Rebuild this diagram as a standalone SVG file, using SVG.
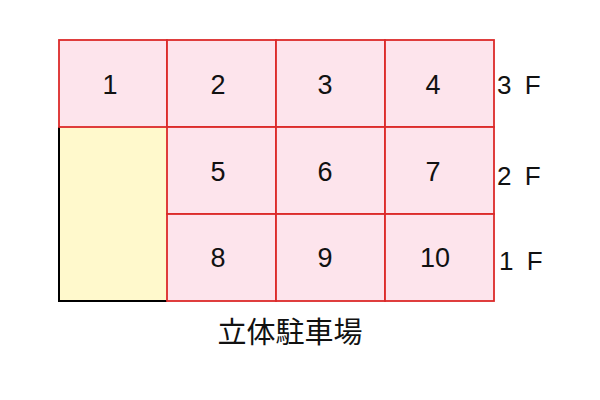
<svg xmlns="http://www.w3.org/2000/svg" width="600" height="400" viewBox="0 0 600 400">
<style>
.cell{fill:#fde4ec;stroke:#dc2a2a;stroke-width:1.8}
.num{font-family:"Liberation Sans",Arial,sans-serif;font-size:27px;fill:#111;text-anchor:middle;dominant-baseline:central}
.fl{font-family:"Liberation Sans",Arial,sans-serif;font-size:26px;fill:#111;dominant-baseline:central;letter-spacing:3px}
.title{font-family:"Noto Sans CJK JP","Noto Sans CJK SC",sans-serif;font-size:29px;fill:#111;text-anchor:middle;dominant-baseline:central}
</style>
<rect width="600" height="400" fill="#fff"/>
<g id="empty">
<rect x="59" y="127" width="108" height="174" fill="#fff9cc" stroke="none"/>
<path d="M59 127 V301 H167" fill="none" stroke="#000" stroke-width="2"/>
</g>
<g id="n1"><rect class="cell" x="59" y="40" width="108" height="87"/><text class="num" x="110" y="85">1</text></g>
<g id="n2"><rect class="cell" x="167" y="40" width="109" height="87"/><text class="num" x="218" y="85">2</text></g>
<g id="n3"><rect class="cell" x="276" y="40" width="109" height="87"/><text class="num" x="325" y="85">3</text></g>
<g id="n4"><rect class="cell" x="385" y="40" width="109" height="87"/><text class="num" x="433" y="85">4</text></g>
<g id="n5"><rect class="cell" x="167" y="127" width="109" height="87"/><text class="num" x="218" y="172">5</text></g>
<g id="n6"><rect class="cell" x="276" y="127" width="109" height="87"/><text class="num" x="325" y="172">6</text></g>
<g id="n7"><rect class="cell" x="385" y="127" width="109" height="87"/><text class="num" x="433" y="172">7</text></g>
<g id="n8"><rect class="cell" x="167" y="214" width="109" height="87"/><text class="num" x="218" y="258">8</text></g>
<g id="n9"><rect class="cell" x="276" y="214" width="109" height="87"/><text class="num" x="325" y="258">9</text></g>
<g id="n10"><rect class="cell" x="385" y="214" width="109" height="87"/><text class="num" x="435" y="258">10</text></g>
<g id="floors">
<text class="fl" x="497" y="85">3 F</text>
<text class="fl" x="497" y="176">2 F</text>
<text class="fl" x="499" y="261">1 F</text>
</g>
<g id="connectors"></g>
<text class="title" x="290" y="330">立体駐車場</text>
</svg>
